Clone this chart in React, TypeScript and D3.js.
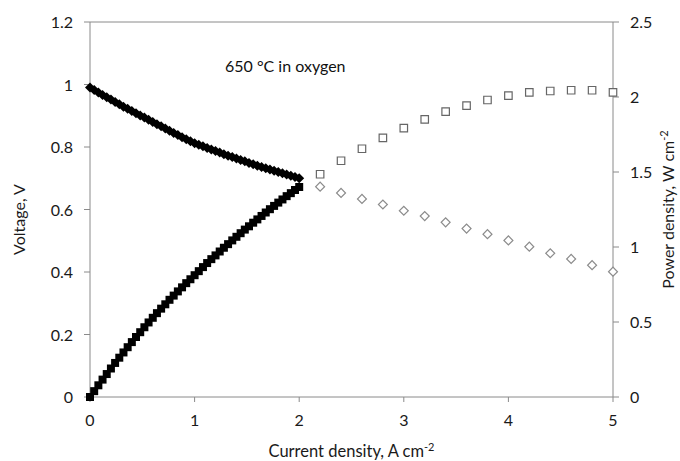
import React, { useEffect, useRef } from "react";
import * as d3 from "d3";

// Measured region (0 - 2 A cm-2), filled markers
const currentMeasured = [
  0, 0.04, 0.08, 0.12, 0.16, 0.2, 0.24, 0.28, 0.32, 0.36, 0.4, 0.44, 0.48, 0.52, 0.56, 0.6, 0.64,
  0.68, 0.72, 0.76, 0.8, 0.84, 0.88, 0.92, 0.96, 1.0, 1.04, 1.08, 1.12, 1.16, 1.2, 1.24, 1.28,
  1.32, 1.36, 1.4, 1.44, 1.48, 1.52, 1.56, 1.6, 1.64, 1.68, 1.72, 1.76, 1.8, 1.84, 1.88, 1.92,
  1.96, 2.0,
];
const voltageMeasured = [
  0.99, 0.982, 0.974, 0.966, 0.959, 0.952, 0.944, 0.937, 0.929, 0.922, 0.915, 0.908, 0.901,
  0.894, 0.887, 0.88, 0.873, 0.866, 0.859, 0.852, 0.845, 0.838, 0.831, 0.825, 0.818, 0.812,
  0.807, 0.802, 0.797, 0.792, 0.787, 0.782, 0.777, 0.772, 0.768, 0.763, 0.758, 0.754, 0.749,
  0.745, 0.74, 0.736, 0.732, 0.728, 0.724, 0.72, 0.716, 0.712, 0.708, 0.704, 0.7,
];
const powerMeasured = [
  0, 0.039, 0.078, 0.116, 0.153, 0.19, 0.227, 0.262, 0.297, 0.332, 0.366, 0.4, 0.432, 0.465,
  0.497, 0.528, 0.559, 0.589, 0.618, 0.648, 0.676, 0.704, 0.731, 0.759, 0.785, 0.812, 0.839,
  0.866, 0.893, 0.919, 0.944, 0.97, 0.995, 1.019, 1.044, 1.068, 1.092, 1.116, 1.138, 1.162,
  1.184, 1.207, 1.23, 1.252, 1.274, 1.296, 1.317, 1.339, 1.359, 1.38, 1.4,
];

// Extrapolated region (2.2 - 5 A cm-2), open markers
const currentExtra = [2.2, 2.4, 2.6, 2.8, 3.0, 3.2, 3.4, 3.6, 3.8, 4.0, 4.2, 4.4, 4.6, 4.8, 5.0];
const voltageExtra = [
  0.673, 0.653, 0.634, 0.616, 0.596, 0.579, 0.559, 0.539, 0.521, 0.501, 0.481, 0.46, 0.442,
  0.422, 0.401,
];
const powerExtra = [
  1.485, 1.575, 1.655, 1.727, 1.793, 1.851, 1.902, 1.942, 1.98, 2.009, 2.031, 2.04, 2.045,
  2.045, 2.031,
];

const xTicks = [0, 1, 2, 3, 4, 5];
const yLeftTicks = [0, 0.2, 0.4, 0.6, 0.8, 1, 1.2];
const yRightTicks = [0, 0.5, 1, 1.5, 2, 2.5];

const App = () => {
  const svgRef = useRef<SVGSVGElement>(null);

  useEffect(() => {
    const svg = d3.select(svgRef.current);
    svg.selectAll("*").remove();

    const width = 680;
    const height = 461;
    const left = 90;
    const right = 613;
    const top = 22;
    const bottom = 397;
    const font = "Lato, 'Open Sans', sans-serif";
    const axisColor = "#8a8a8a";
    const textColor = "#1a1a1a";

    svg.attr("width", width).attr("height", height);

    const x = d3.scaleLinear().domain([0, 5]).range([left, right]);
    const yV = d3.scaleLinear().domain([0, 1.2]).range([bottom, top]);
    const yP = d3.scaleLinear().domain([0, 2.5]).range([bottom, top]);

    // frame
    const g = svg.append("g");
    g.append("line").attr("x1", left).attr("x2", right).attr("y1", top).attr("y2", top)
      .attr("stroke", axisColor);
    g.append("line").attr("x1", left).attr("x2", right).attr("y1", bottom).attr("y2", bottom)
      .attr("stroke", axisColor);
    g.append("line").attr("x1", left).attr("x2", left).attr("y1", top).attr("y2", bottom)
      .attr("stroke", axisColor);
    g.append("line").attr("x1", right).attr("x2", right).attr("y1", top).attr("y2", bottom)
      .attr("stroke", axisColor);

    // x ticks
    xTicks.forEach((t) => {
      g.append("line").attr("x1", x(t)).attr("x2", x(t)).attr("y1", bottom).attr("y2", bottom + 5)
        .attr("stroke", axisColor);
      g.append("text").attr("x", x(t)).attr("y", bottom + 29).attr("text-anchor", "middle")
        .style("font-family", font).style("font-size", "16px").attr("fill", textColor).text(t);
    });

    // left ticks
    yLeftTicks.forEach((t) => {
      g.append("line").attr("x1", left - 6).attr("x2", left).attr("y1", yV(t)).attr("y2", yV(t))
        .attr("stroke", axisColor);
      g.append("text").attr("x", left - 17).attr("y", yV(t) + 6).attr("text-anchor", "end")
        .style("font-family", font).style("font-size", "16px").attr("fill", textColor).text(t);
    });

    // right ticks
    yRightTicks.forEach((t) => {
      g.append("line").attr("x1", right).attr("x2", right + 6).attr("y1", yP(t)).attr("y2", yP(t))
        .attr("stroke", axisColor);
      g.append("text").attr("x", right + 17).attr("y", yP(t) + 6).attr("text-anchor", "start")
        .style("font-family", font).style("font-size", "16px").attr("fill", textColor).text(t);
    });

    // axis labels
    const xLabel = g.append("text").attr("x", (left + right) / 2).attr("y", 457)
      .attr("text-anchor", "middle").style("font-family", font).style("font-size", "16.5px")
      .attr("fill", textColor);
    xLabel.append("tspan").text("Current density, A cm");
    xLabel.append("tspan").attr("dy", -6).style("font-size", "11px").text("-2");

    g.append("text").attr("transform", `translate(25, ${(top + bottom) / 2 + 10}) rotate(-90)`)
      .attr("text-anchor", "middle").style("font-family", font).style("font-size", "16px")
      .attr("fill", textColor).text("Voltage, V");

    const pLabel = g.append("text")
      .attr("transform", `translate(674, ${(top + bottom) / 2}) rotate(-90)`)
      .attr("text-anchor", "middle").style("font-family", font).style("font-size", "16px")
      .attr("fill", textColor);
    pLabel.append("tspan").text("Power density, W cm");
    pLabel.append("tspan").attr("dy", -6).style("font-size", "11px").text("-2");

    g.append("text").attr("x", 225).attr("y", 72).style("font-family", font)
      .style("font-size", "16px").attr("fill", "#111").text("650 °C in oxygen");

    // markers
    const square = (size: number) => d3.symbol().type(d3.symbolSquare).size(size)();

    // open markers, extrapolated region
    g.selectAll(".open-diamond").data(currentExtra).enter().append("path")
      .attr("d", square(40))
      .attr("transform", (d, i) => `translate(${x(d)}, ${yV(voltageExtra[i])}) rotate(45)`)
      .attr("fill", "white").attr("stroke", "#8c8c8c").attr("stroke-width", 1.2);

    g.selectAll(".open-square").data(currentExtra).enter().append("path")
      .attr("d", square(56))
      .attr("transform", (d, i) => `translate(${x(d)}, ${yP(powerExtra[i])})`)
      .attr("fill", "white").attr("stroke", "#666").attr("stroke-width", 1.2);

    // filled markers, measured region
    g.selectAll(".filled-diamond").data(currentMeasured).enter().append("path")
      .attr("d", square(50))
      .attr("transform", (d, i) => `translate(${x(d)}, ${yV(voltageMeasured[i])}) rotate(45)`)
      .attr("fill", "black");

    g.selectAll(".filled-square").data(currentMeasured).enter().append("path")
      .attr("d", square(64))
      .attr("transform", (d, i) => `translate(${x(d)}, ${yP(powerMeasured[i])})`)
      .attr("fill", "black");
  }, []);

  return <svg ref={svgRef} style={{ position: "absolute", left: 0, top: 0 }}></svg>;
};

export default App;
